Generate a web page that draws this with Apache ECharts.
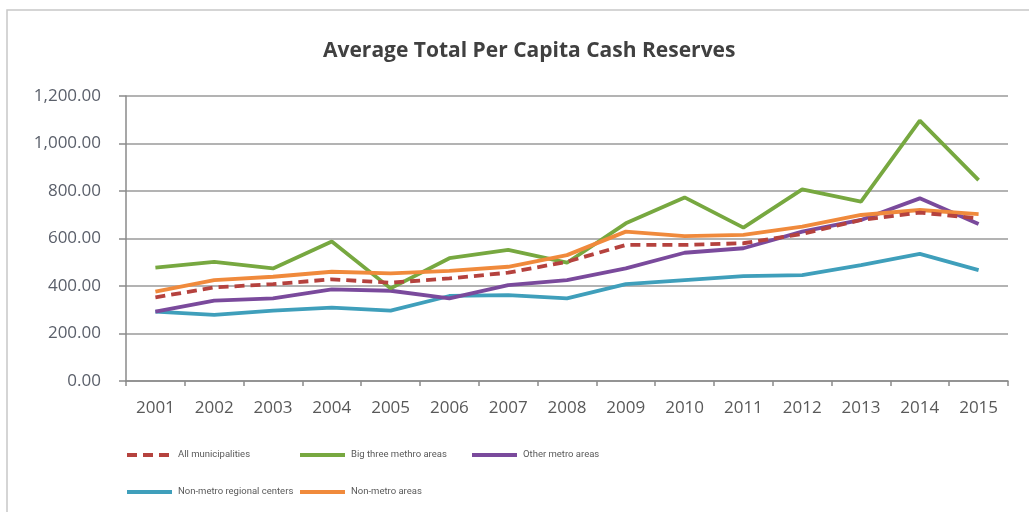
<!DOCTYPE html>
<html><head><meta charset="utf-8">
<script src="https://cdn.jsdelivr.net/npm/echarts@6/dist/echarts.min.js"></script>
<style>html,body{margin:0;padding:0;background:#fff}#c{width:1029px;height:512px}</style>
</head><body><div id="c"></div>
<script>
const years = ['2001','2002','2003','2004','2005','2006','2007','2008','2009','2010','2011','2012','2013','2014','2015'];
const allMunicipalities = [352,394,408,428,414,432,456,502,573,573,580,619,678,709,685];
const bigThree = [477,502,474,587,390,517,552,498,664,773,646,807,755,1096,846];
const otherMetro = [292,338,348,386,380,348,404,425,474,540,559,629,678,769,661];
const nonMetroRegional = [292,278,296,309,296,358,362,348,408,425,442,446,488,535,467];
const nonMetroAreas = [376,425,439,460,453,464,481,530,629,610,615,650,699,720,703];
const seriesNames = ['All municipalities','Big three methro areas','Other metro areas','Non-metro regional centers','Non-metro areas'];

const colors = ['#b5423e','#77a840','#7a4a9c','#3f9fbb','#f08a3c'];
const font = 'Open Sans, Liberation Sans, sans-serif';
const legendFont = 'Roboto, "Open Sans", sans-serif';
const chart = echarts.init(document.getElementById('c'));
const mk = (i, data, extra) => Object.assign({
  name: seriesNames[i], type: 'line', data, symbol: 'none', smooth: false,
  lineStyle: {width: 3.8, color: colors[i]}, itemStyle: {color: colors[i]}, z: 2
}, extra || {});
const legendPos = [[125,450],[298,450],[470,450],[125,487],[298,487]];
chart.setOption({
  animation: false,
  title: {text: 'Average Total Per Capita Cash Reserves', left: 318, top: 36,
    textStyle: {fontFamily: font, fontSize: 21, fontWeight: 'bold', color: '#404040'}},
  graphic: [{type: 'rect', shape: {x: 7, y: 10, width: 1040, height: 520},
    style: {fill: 'none', stroke: '#c8c8c8', lineWidth: 1.5}}],
  grid: {left: 126, right: 21, top: 96, bottom: 131},
  legend: seriesNames.map((n, i) => ({
    data: [n], left: legendPos[i][0], top: legendPos[i][1], padding: 0,
    itemWidth: 45, itemHeight: 12, itemGap: 4,
    itemStyle: {opacity: 0}, lineStyle: {width: 4},
    textStyle: {fontFamily: legendFont, fontSize: 9.5, color: '#595959', padding: [0, 0, 0, 1]}
  })),
  xAxis: {type: 'category', data: years, boundaryGap: true,
    axisLine: {lineStyle: {color: '#8a8a8a', width: 1.5}},
    axisTick: {show: true, length: 5, alignWithLabel: false, lineStyle: {color: '#8a8a8a', width: 1.5}},
    axisLabel: {fontFamily: font, fontSize: 17, color: '#595959', margin: 19}},
  yAxis: {type: 'value', min: 0, max: 1200, interval: 200,
    axisLine: {show: true, lineStyle: {color: '#8a8a8a', width: 1.5}},
    axisTick: {show: true, length: 7, lineStyle: {color: '#8a8a8a', width: 1.5}},
    splitLine: {lineStyle: {color: '#9a9a9a', width: 1.5}},
    axisLabel: {fontFamily: font, fontSize: 17, color: '#5a5f6a', margin: 25,
      formatter: v => v.toLocaleString('en-US', {minimumFractionDigits: 2, maximumFractionDigits: 2})}},
  series: [
    mk(3, nonMetroRegional),
    mk(2, otherMetro),
    mk(1, bigThree),
    mk(4, nonMetroAreas),
    mk(0, allMunicipalities, {lineStyle: {width: 3.8, color: colors[0], type: [10, 6]}, z: 5})
  ]
});
</script></body></html>
